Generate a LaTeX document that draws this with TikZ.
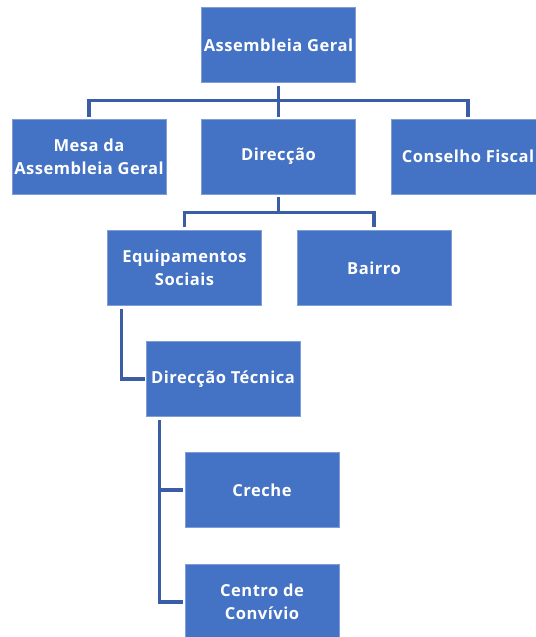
\documentclass[tikz,border=0pt]{standalone}
\usepackage{fontspec}
\setmainfont{Open Sans}[LetterSpace=3]
\usetikzlibrary{calc}
\definecolor{boxblue}{HTML}{4472C4}
\definecolor{boxedge}{HTML}{7F9DD6}
\definecolor{linkblue}{HTML}{3A5DA6}
\tikzset{
  orgbox/.style={rectangle, fill=boxblue, draw=boxedge, line width=0.4pt,
    minimum width=115.5pt, minimum height=56.5pt, inner sep=0pt,
    text=white, align=center, font=\fontsize{12.4}{17}\selectfont\bfseries},
  link/.style={draw=linkblue, line width=2.3pt}
}
\begin{document}
\begin{tikzpicture}[x=0.75pt,y=-0.75pt]
\useasboundingbox (0,0) rectangle (536,637);
\clip (0,0) rectangle (536,637);
\node[orgbox] (ag) at (278.5,45) {Assembleia Geral};
\node[orgbox] (mesa) at (89,156.5) {Mesa da\\Assembleia Geral};
\node[orgbox] (dir) at (278.5,156.5) {Direcção};
\node[orgbox] (cf) at (468,156.5) {Conselho Fiscal};
\node[orgbox] (equip) at (184.5,268) {Equipamentos\\Sociais};
\node[orgbox] (bairro) at (374,268) {Bairro};
\node[orgbox] (dt) at (223,379) {Direcção Técnica};
\node[orgbox] (creche) at (262,490) {Creche};
\node[orgbox] (centro) at (262,602) {Centro de\\Convívio};
% Assembleia Geral -> row 2
\coordinate (agbus) at ($(ag.south)!0.5!(dir.north)$);
\draw[link] ($(ag.south)+(0,3)$) -- ($(dir.north)+(0,-2)$);
\draw[link] ($(mesa.north)+(0,-2)$) |- (agbus) -| ($(cf.north)+(0,-2)$);
% Direccao -> row 3
\coordinate (dirbus) at ($(dir.south)!0.5!(dir.south|-equip.north)$);
\draw[link] ($(dir.south)+(0,3)$) -- (dirbus);
\draw[link] ($(equip.north)+(0,-3)$) |- (dirbus) -| ($(bairro.north)+(0,-3)$);
% Equipamentos Sociais -> Direccao Tecnica
\draw[link] ($(equip.south west)+(14,3)$) |- ($(dt.west)+(-1,0)$);
% Direccao Tecnica -> Creche, Centro de Convivio
\draw[link] ($(dt.south west)+(14,3)$) |- ($(centro.west)+(-2,0)$);
\draw[link] ($(dt.south west)+(14,3)$) |- ($(creche.west)+(-2,0)$);
\end{tikzpicture}
\end{document}
